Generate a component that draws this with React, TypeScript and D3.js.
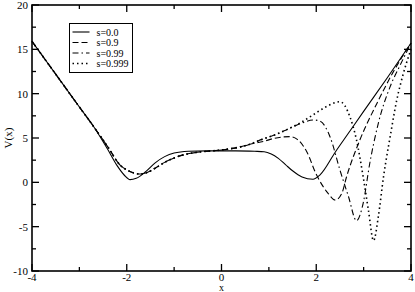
import React, { useEffect, useRef } from 'react';
import * as d3 from 'd3';

// shared branch of the s>0 curves (left well + middle)
const branchX = [-4, -3.5, -3, -2.7, -2.4, -2.14, -2.0, -1.85, -1.72, -1.6, -1.4, -1.2, -1.0, -0.8, -0.5, -0.2, 0, 0.2, 0.4, 0.6];
const branchV = [15.9, 12.2, 8.5, 6.3, 4.0, 1.95, 1.4, 1.05, 0.94, 1.05, 1.6, 2.25, 2.75, 3.1, 3.4, 3.55, 3.65, 3.8, 4.0, 4.3];

const s0X = [-4, -3.5, -3, -2.7, -2.4, -2.2, -2.05, -1.93, -1.8, -1.6, -1.4, -1.2, -1.0, -0.7, -0.3, 0, 0.3, 0.7, 0.9, 1.05, 1.2, 1.35, 1.5, 1.7, 1.93, 2.08, 2.4, 2.7, 3, 3.5, 4];
const s0V = [15.9, 12.2, 8.5, 6.3, 3.7, 1.85, 0.8, 0.3, 0.45, 1.2, 2.2, 2.9, 3.3, 3.5, 3.55, 3.55, 3.55, 3.5, 3.45, 3.2, 2.7, 2.0, 1.3, 0.6, 0.34, 0.85, 3.4, 5.7, 8.0, 11.8, 15.7];

const s09X = [0.88, 1.1, 1.3, 1.45, 1.6, 1.8, 2.0, 2.25, 2.4, 2.54, 2.64, 2.92, 3.28, 3.62, 3.83, 4];
const s09V = [4.6, 4.95, 5.12, 5.15, 4.85, 3.45, 0.9, -1.24, -2.0, -1.24, 0.63, 4.77, 8.9, 12.4, 14.3, 15.7];

const s099X = [0.88, 1.1, 1.4, 1.66, 1.94, 2.08, 2.29, 2.5, 2.68, 2.85, 2.99, 3.13, 3.31, 3.56, 3.77, 4];
const s099V = [4.9, 5.3, 6.0, 6.6, 7.03, 6.9, 5.15, 1.39, -1.6, -4.33, -2.37, 2.15, 6.66, 10.8, 13.2, 15.7];

const s0999X = [0.88, 1.1, 1.4, 1.66, 1.93, 2.2, 2.5, 2.71, 2.85, 2.99, 3.1, 3.21, 3.31, 3.42, 3.56, 3.7, 3.84, 4];
const s0999V = [4.9, 5.3, 6.0, 6.7, 7.6, 8.5, 9.09, 7.4, 4.77, 0.63, -3.1, -6.58, -3.88, 0.63, 5.15, 9.29, 12.3, 15.0];

const legendLabels = ['s=0.0', 's=0.9', 's=0.99', 's=0.999'];
const dashes = [null, '6,3', '6,3,1.5,3', '1.5,3'];
const xTicks = [-4, -2, 0, 2, 4];
const yTicks = [-10, -5, 0, 5, 10, 15, 20];

const zip = (xs: number[], vs: number[]) => xs.map((x, i) => [x, vs[i]] as [number, number]);

const App = () => {
  const svgRef = useRef<SVGSVGElement>(null);

  useEffect(() => {
    document.body.style.margin = '0';
    const svg = d3.select(svgRef.current);
    svg.selectAll('*').remove();
    const width = 415;
    const height = 292;
    const m = { top: 5, right: 4, bottom: 21, left: 32 };
    const innerW = width - m.left - m.right;
    const innerH = height - m.top - m.bottom;
    const font = "'Liberation Serif', 'Times New Roman', Times, serif";

    const x = d3.scaleLinear().domain([-4, 4]).range([0, innerW]);
    const y = d3.scaleLinear().domain([-10, 20]).range([innerH, 0]);
    const g = svg.append('g').attr('transform', `translate(${m.left},${m.top})`);

    const series = [
      zip(s0X, s0V),
      [...zip(branchX, branchV), ...zip(s09X, s09V)],
      [...zip(branchX, branchV), ...zip(s099X, s099V)],
      [...zip(branchX, branchV), ...zip(s0999X, s0999V)],
    ];

    const line = d3
      .line<[number, number]>()
      .x((d) => x(d[0]))
      .y((d) => y(d[1]))
      .curve(d3.curveMonotoneX);

    series.forEach((pts, i) => {
      g.append('path')
        .datum(pts)
        .attr('fill', 'none')
        .attr('stroke', '#000')
        .attr('stroke-width', i === 3 ? 1.6 : 1.1)
        .attr('stroke-dasharray', dashes[i])
        .attr('d', line);
    });

    // ticks inside on all four sides
    const tickLen = (major: boolean) => (major ? 7 : 4);
    d3.range(-4, 4.01, 1).forEach((v) => {
      const major = Math.abs(v % 2) < 1e-9;
      const px = x(v);
      g.append('line').attr('x1', px).attr('x2', px).attr('y1', innerH).attr('y2', innerH - tickLen(major)).attr('stroke', '#000').attr('stroke-width', 1.3);
      g.append('line').attr('x1', px).attr('x2', px).attr('y1', 0).attr('y2', tickLen(major)).attr('stroke', '#000').attr('stroke-width', 1.3);
    });
    d3.range(-10, 20.01, 2.5).forEach((v) => {
      const major = Math.abs(v % 5) < 1e-9;
      const py = y(v);
      g.append('line').attr('x1', 0).attr('x2', tickLen(major)).attr('y1', py).attr('y2', py).attr('stroke', '#000').attr('stroke-width', 1.3);
      g.append('line').attr('x1', innerW).attr('x2', innerW - tickLen(major)).attr('y1', py).attr('y2', py).attr('stroke', '#000').attr('stroke-width', 1.3);
    });

    g.append('rect')
      .attr('width', innerW)
      .attr('height', innerH)
      .attr('fill', 'none')
      .attr('stroke', '#000')
      .attr('stroke-width', 1.6);

    g.selectAll('.xl')
      .data(xTicks)
      .enter()
      .append('text')
      .attr('x', (d) => x(d))
      .attr('y', innerH + 10)
      .attr('text-anchor', 'middle')
      .style('font-family', font)
      .style('font-size', '11px')
      .text((d) => String(d));

    g.selectAll('.yl')
      .data(yTicks)
      .enter()
      .append('text')
      .attr('x', -4)
      .attr('y', (d) => y(d) + 4)
      .attr('text-anchor', 'end')
      .style('font-family', font)
      .style('font-size', '11px')
      .text((d) => String(d));

    svg.append('text')
      .attr('x', m.left + innerW / 2)
      .attr('y', 291)
      .attr('text-anchor', 'middle')
      .style('font-family', font)
      .style('font-size', '10px')
      .text('x');

    svg.append('text')
      .attr('transform', `translate(12,${m.top + innerH / 2}) rotate(-90)`)
      .attr('text-anchor', 'middle')
      .style('font-family', font)
      .style('font-size', '11px')
      .text('V(x)');

    // legend
    const lg = svg.append('g').attr('transform', 'translate(69.5,23.5)');
    lg.append('rect').attr('width', 63).attr('height', 49).attr('fill', '#fff').attr('stroke', '#000').attr('stroke-width', 1);
    legendLabels.forEach((lab, i) => {
      const ly = 8.5 + i * 10.5;
      lg.append('line')
        .attr('x1', 3)
        .attr('x2', 20)
        .attr('y1', ly)
        .attr('y2', ly)
        .attr('stroke', '#000')
        .attr('stroke-width', i === 3 ? 1.6 : 1.1)
        .attr('stroke-dasharray', dashes[i]);
      lg.append('text')
        .attr('x', 27)
        .attr('y', ly + 3.5)
        .style('font-family', font)
        .style('font-size', '10px')
        .text(lab);
    });
  }, []);

  return <svg ref={svgRef} width={415} height={292} style={{ display: 'block' }} />;
};

export default App;
